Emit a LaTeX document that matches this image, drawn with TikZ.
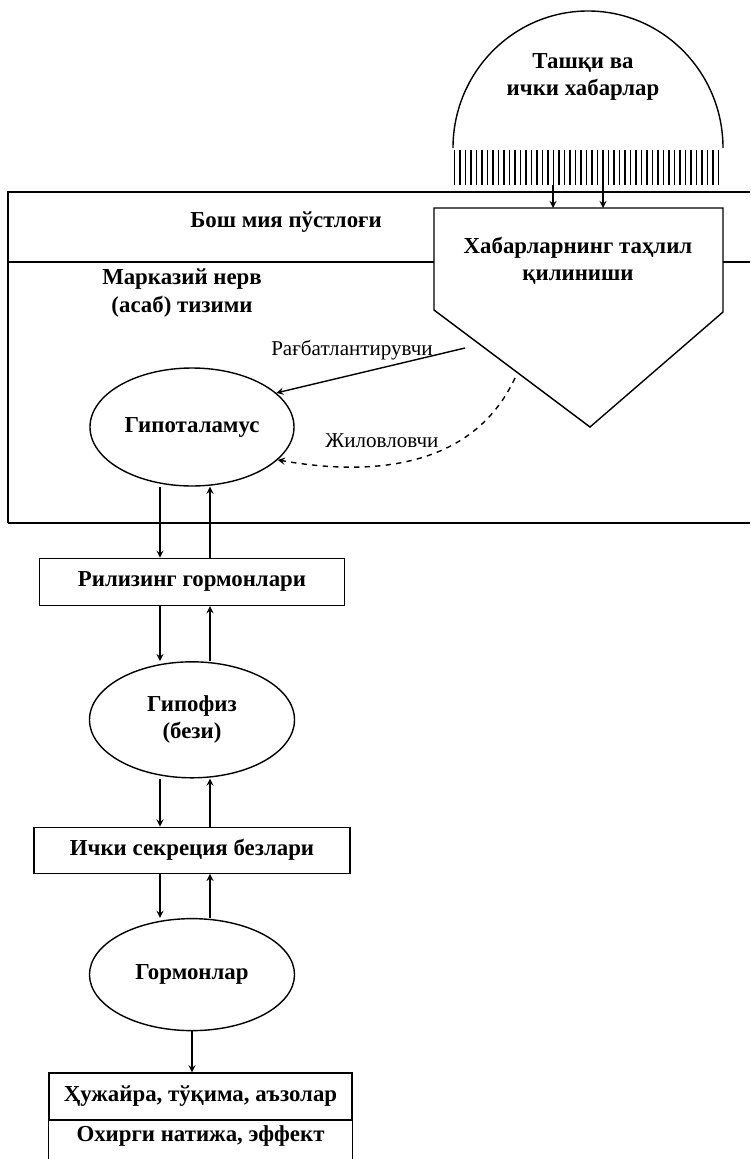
\documentclass[tikz,border=0pt]{standalone}
\usepackage{fontspec}
\setmainfont{Liberation Serif}
\usepackage{tikz}
\usetikzlibrary{shapes,arrows,positioning,calc}

\begin{document}
\begin{tikzpicture}[
    node distance=1cm,
    box/.style={rectangle, draw, thick, minimum width=6.1cm, minimum height=0.94cm, align=center, font=\bfseries\fontsize{13}{15.5}\selectfont},
    oval/.style={ellipse, draw, thick, minimum width=4.1cm, minimum height=2.3cm, inner sep=0pt, align=center, font=\bfseries\fontsize{13}{15.5}\selectfont},
    title/.style={align=center, font=\bfseries\fontsize{13}{15.5}\selectfont},
    note/.style={font=\fontsize{12}{14}\selectfont, inner sep=1pt},
    arrow/.style={->, thick, >=stealth}
]
\useasboundingbox (0,0) rectangle (15,-23.18);

% Outer and inner messages
\draw[thick] (9.06,-2.96) arc[start angle=180, end angle=0, x radius=2.7cm, y radius=2.74cm];
\node[title] (msg) at (11.66,-1.54) {Ташқи ва\\ички хабарлар};

% Receptor strip
\node[minimum width=5.32cm, minimum height=0.7cm, inner sep=0pt] (strip) at (11.76,-3.35) {};
\foreach \i in {0,...,48}
  \draw[thick] ($(strip.north west)+(0.11*\i,0)$) -- ($(strip.south west)+(0.11*\i,0)$);

% Band of the brain
\coordinate (bandNW) at (0.16,-3.84);
\coordinate (bandNE) at (15,-3.84);
\coordinate (bandSW) at (0.16,-10.46);
\coordinate (bandSE) at (15,-10.46);
\draw[thick] (bandSW) -- (bandNW) -- (bandNE);
\draw[thick] (bandSW) -- (bandSE);

% Analysis of messages (pentagon)
\coordinate (pNW) at (8.68,-4.16);
\coordinate (pNE) at (14.46,-4.16);
\coordinate (pE) at (14.46,-6.24);
\coordinate (pS) at (11.8,-8.54);
\coordinate (pW) at (8.68,-6.2);
\draw[thick] (pNW) -- (pNE) -- (pE) -- (pS) -- (pW) -- cycle;
\node[title] (analysis) at (11.56,-5.22) {Хабарларнинг таҳлил\\қилиниши};

% Divider between cortex and CNS
\draw[thick] (0.16,-5.24) -- (pW |- 0,-5.24);
\draw[thick] (pE |- 0,-5.24) -- (15,-5.24);

% Labels of the band
\node[title] (cortex) at (5.72,-4.44) {Бош мия пўстлоғи};
\node[title] (cns) at (3.64,-5.86) {Марказий нерв\\(асаб) тизими};

% Chain
\node[oval, minimum width=4.08cm, minimum height=2.36cm] (hypo) at (3.84,-8.54) {Гипоталамус};
\node[box, below=1.42cm of hypo] (releasing) {Рилизинг гормонлари};
\node[oval, below=1.1cm of releasing, minimum height=2.32cm] (pituitary) {Гипофиз\\(бези)};
\node[box, below=0.96cm of pituitary, minimum width=6.32cm, minimum height=0.92cm] (glands) {Ички секреция безлари};
\node[oval, below=0.88cm of glands, minimum height=2.24cm] (hormones) {Гормонлар};
\node[box, below=0.82cm of hormones, xshift=0.17cm, minimum width=6.06cm] (cells) {Ҳужайра, тўқима, аъзолар};
\node[title, below=0cm of cells, minimum width=6.06cm, minimum height=0.6cm, inner sep=0pt] (effect) {Охирги натижа, эффект};
\coordinate (pageB) at (0,-23.18);
\draw[thick] (effect.north west |- pageB) -- (effect.north west);
\draw[thick] (effect.north east |- pageB) -- (effect.north east);

% Arrows from strip to analysis
\draw[arrow] ([xshift=-0.7cm]strip.south) -- ([xshift=-0.7cm]strip.south |- pNW);
\draw[arrow] ([xshift=0.3cm]strip.south) -- ([xshift=0.3cm]strip.south |- pNW);

% Stimulating and inhibiting signals
\coordinate (stimStart) at (9.3,-6.96);
\coordinate (inhibStart) at (10.3,-7.56);
\draw[arrow] (stimStart) -- (hypo.22);
\draw[arrow, dashed] (inhibStart) to[out=-115, in=-10] (hypo.-21);
\node[note] (stim) at (7.04,-7.0) {Рағбатлантирувчи};
\node[note] (inhib) at (7.64,-8.82) {Жиловловчи};

% Down and up arrows of the chain
\coordinate (dn) at (3.2,0);
\coordinate (up) at (4.2,0);
\draw[arrow] (hypo.south -| dn) -- (releasing.north -| dn);
\draw[arrow] (releasing.north -| up) -- (hypo.south -| up);
\draw[arrow] (releasing.south -| dn) -- (pituitary.north -| dn);
\draw[arrow] (pituitary.north -| up) -- (releasing.south -| up);
\draw[arrow] (pituitary.south -| dn) -- (glands.north -| dn);
\draw[arrow] (glands.north -| up) -- (pituitary.south -| up);
\draw[arrow] (glands.south -| dn) -- (hormones.north -| dn);
\draw[arrow] (hormones.north -| up) -- (glands.south -| up);
\draw[arrow] (hormones.south) -- (cells.north -| hormones.south);

\end{tikzpicture}
\end{document}
